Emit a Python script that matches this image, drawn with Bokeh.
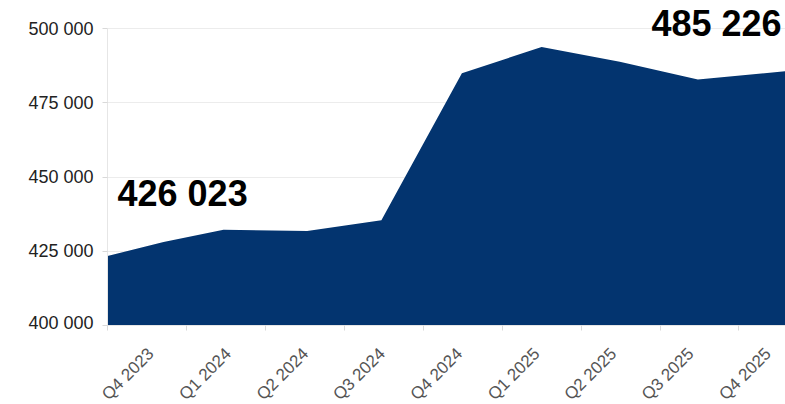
import math
from bokeh.plotting import figure
from bokeh.models import FixedTicker, Label, Range1d
from bokeh.core.properties import value
from bokeh.embed import file_html
from bokeh.resources import INLINE

# ---- data ----
quarters = ["Q4 2023", "Q1 2024", "Q2 2024", "Q3 2024", "Q4 2024",
            "Q1 2025", "Q2 2025", "Q3 2025", "Q4 2025"]
# position of each observation on the time axis, in quarters since the start of Q4 2023
period = [0.0, 0.71, 1.47, 2.53, 3.47, 4.49, 5.50, 6.49, 7.48, 8.59]
values = [423400, 428100, 432200, 431800, 435400, 484900, 493800, 488800, 482800, 485600]
# where each quarter label is anchored on the same time axis
label_pos = [0.55, 1.53, 2.51, 3.48, 4.46, 5.44, 6.41, 7.39, 8.37]
first_label_value = 426023
last_label_value = 485226
y_ticks = [400000, 425000, 450000, 475000, 500000]


def fmt(v):
    return f"{v:,}".replace(",", " ")


NAVY = "#03346F"
FONT = "Liberation Sans"
LEFT = 107          # left border (px)
FRAME_W = 678       # plot frame width (px)
FRAME_H = 325       # plot frame height (px)
TOP_PAD = 28        # px of head-room above the top tick

x_end = period[-1]
y_top = y_ticks[-1] + (y_ticks[-1] - y_ticks[0]) * TOP_PAD / (FRAME_H - TOP_PAD)

# ---------------- main chart ----------------
p = figure(width=LEFT + FRAME_W, height=FRAME_H + 7, output_backend="svg",
           toolbar_location=None,
           x_range=Range1d(0, x_end), y_range=Range1d(y_ticks[0], y_top),
           min_border_left=LEFT, min_border_right=0, min_border_top=0,
           min_border_bottom=7)
p.outline_line_color = None
p.background_fill_color = "white"

base = [y_ticks[0]] * len(values)
p.varea(x=period, y1=base, y2=values, fill_color=NAVY)

# y axis
p.yaxis.ticker = FixedTicker(ticks=y_ticks)
p.yaxis.bounds = (y_ticks[0], y_ticks[-1])
p.yaxis.major_label_overrides = {t: fmt(t) for t in y_ticks}
p.yaxis.axis_line_color = "#e6e6e6"
p.yaxis.major_tick_line_color = "#d9d9d9"
p.yaxis.major_tick_out = 5
p.yaxis.major_tick_in = 0
p.yaxis.minor_tick_line_color = None
p.yaxis.major_label_standoff = 9
p.yaxis.major_label_text_font = FONT
p.yaxis.major_label_text_font_size = "18px"
p.yaxis.major_label_text_color = "#222222"

# x axis: only the quarter-boundary ticks (labels are drawn in the strip below)
boundaries = list(range(len(quarters)))
p.xaxis.ticker = FixedTicker(ticks=[], minor_ticks=boundaries)
p.xaxis.major_tick_line_color = None
p.xaxis.major_tick_out = 0
p.xaxis.major_tick_in = 0
p.xaxis.minor_tick_line_color = "#d9d9d9"
p.xaxis.minor_tick_out = 5
p.xaxis.minor_tick_in = 0
p.xaxis.axis_line_color = "#e6e6e6"
p.xaxis.major_label_standoff = 0

p.xgrid.grid_line_color = None
p.ygrid.grid_line_color = "#ececec"
p.ygrid.ticker = FixedTicker(ticks=y_ticks)

p.add_layout(Label(x=0.127, y=444300, text=fmt(first_label_value),
                   text_font=FONT, text_font_style="bold",
                   text_font_size="36px", text_color="black",
                   text_align="left", text_baseline="alphabetic"))
p.add_layout(Label(x=8.54, y=501700, text=fmt(last_label_value),
                   text_font=FONT, text_font_style="bold",
                   text_font_size="36px", text_color="black",
                   text_align="right", text_baseline="alphabetic"))

# ---------------- quarter labels strip (same x scale, full width frame) ----------------
STRIP_H = 404 - (FRAME_H + 7)
q = figure(width=LEFT + FRAME_W, height=STRIP_H, output_backend="svg",
           toolbar_location=None,
           x_range=Range1d(-x_end * LEFT / FRAME_W, x_end),
           y_range=Range1d(STRIP_H, 0),
           x_axis_type=None, y_axis_type=None,
           min_border=0)
q.outline_line_color = None
q.xgrid.grid_line_color = None
q.ygrid.grid_line_color = None

q.text(x=label_pos, y=[18.5] * len(label_pos), text=quarters, angle=math.pi / 4,
       text_align="right", text_baseline="middle",
       text_font=value(FONT), text_font_size=value("17px"),
       text_color="#555555")

open("out.html", "w").write(file_html([p, q], INLINE))
